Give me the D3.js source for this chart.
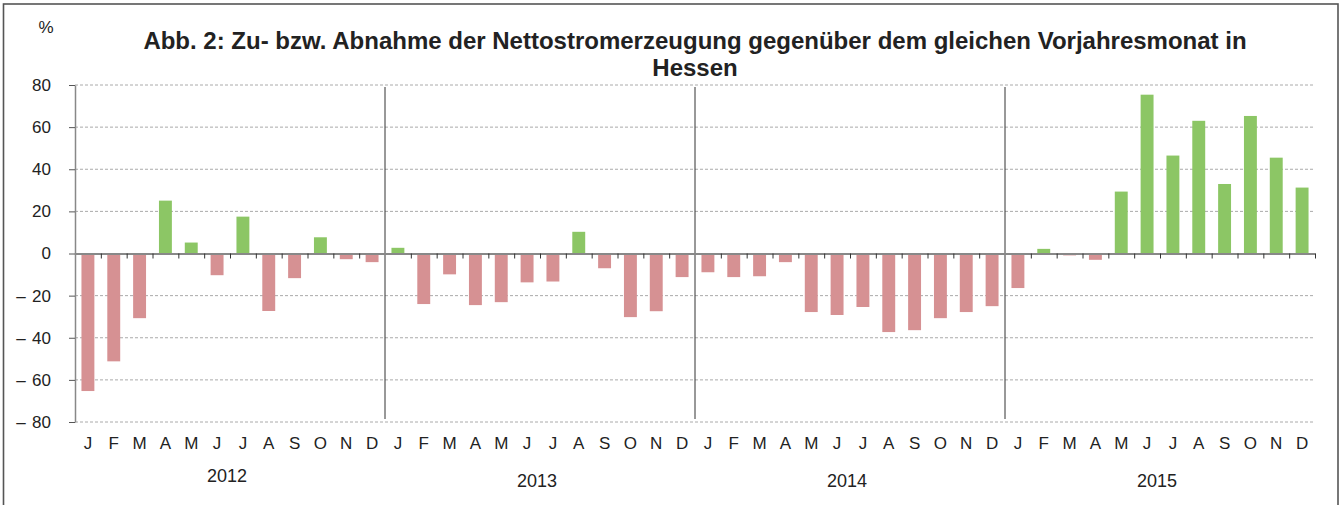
<!DOCTYPE html>
<html><head><meta charset="utf-8">
<script src="https://cdn.jsdelivr.net/npm/d3@7"></script>
<style>
html,body{margin:0;padding:0;background:#fff;}
text{font-family:"Liberation Sans",Arial,sans-serif;fill:#222;}
</style></head>
<body>
<svg id="chart" width="1344" height="505"></svg>
<script>
const years = ["2012","2013","2014","2015"];
const monthLetters = ["J","F","M","A","M","J","J","A","S","O","N","D"];
const values2012 = [-65.3,-51.2,-30.7,25.1,5.2,-10.3,17.5,-27.3,-11.7,7.7,-2.7,-4.1];
const values2013 = [2.7,-24.0,-9.9,-24.5,-23.1,-13.7,-13.3,10.3,-7.0,-30.2,-27.4,-11.2];
const values2014 = [-8.9,-11.2,-10.8,-4.1,-27.8,-29.2,-25.4,-37.3,-36.4,-30.7,-27.8,-25.0];
const values2015 = [-16.4,2.2,-0.9,-3.0,29.4,75.4,46.5,63.0,33.0,65.3,45.5,31.3];
const yTicks = [-80,-60,-40,-20,0,20,40,60,80];
const titleLines = ["Abb. 2: Zu- bzw. Abnahme der Nettostromerzeugung gegenüber dem gleichen Vorjahresmonat in","Hessen"];
const unitLabel = "%";

const allValues = [values2012,values2013,values2014,values2015];
const data = [];
years.forEach((yr,yi)=>{
  allValues[yi].forEach((v,mi)=>{
    data.push({key: yr+"-"+mi, year: yr, month: monthLetters[mi], value: v});
  });
});

const svg = d3.select("#chart");
const L = 75, R = 1315, T = 85, B = 422;

// frame
svg.append("rect").attr("x",3.5).attr("y",4).attr("width",1334.5).attr("height",560)
  .attr("fill","none").attr("stroke","#555").attr("stroke-width",1.6);

const x = d3.scaleBand().domain(data.map(d=>d.key)).range([L,R]).paddingInner(0.5).paddingOuter(0.25);
const xi = d3.scaleLinear().domain([0,data.length]).range([L,R]);
const y = d3.scaleLinear().domain([-80,80]).range([B,T]);

// gridlines
svg.append("g").selectAll("line").data(yTicks.filter(t=>t!==0)).join("line")
  .attr("x1",L).attr("x2",R).attr("y1",d=>y(d)).attr("y2",d=>y(d))
  .attr("stroke","#aaa").attr("stroke-width",1).attr("stroke-dasharray","3,2");

// bars
svg.append("g").selectAll("rect").data(data).join("rect")
  .attr("x",d=>x(d.key)).attr("width",x.bandwidth())
  .attr("y",d=>y(Math.max(0,d.value))).attr("height",d=>Math.abs(y(d.value)-y(0)))
  .attr("fill",d=>d.value>=0?"#8cc665":"#d69193");

// y axis
const yAxis = svg.append("g").attr("transform",`translate(${L},0)`)
  .call(d3.axisLeft(y).tickValues(yTicks).tickSize(6).tickSizeOuter(0).tickPadding(18)
    .tickFormat(d=>Math.abs(d)));
yAxis.select(".domain").attr("stroke","#888").attr("stroke-width",1.5);
yAxis.selectAll(".tick line").attr("stroke","#555");
yAxis.selectAll(".tick text").attr("font-size",17).attr("font-family","Liberation Sans, Arial, sans-serif").attr("fill","#222");
yAxis.selectAll(".tick").filter(d=>d<0).append("text")
  .attr("x",-54).attr("dy","0.32em").attr("text-anchor","middle")
  .attr("font-size",17).attr("fill","#222").attr("font-family","Liberation Sans, Arial, sans-serif").text("–");

// year separators
svg.append("g").selectAll("line").data([12,24,36]).join("line")
  .attr("x1",d=>xi(d)).attr("x2",d=>xi(d)).attr("y1",87).attr("y2",419)
  .attr("stroke","#333").attr("stroke-width",1);

// x axis zero line + ticks
const xAxis = svg.append("g").attr("transform",`translate(0,${y(0)})`)
  .call(d3.axisBottom(xi).tickValues(d3.range(1,49).filter(k=>k%12!==0||k===48)).tickSize(5).tickSizeOuter(0).tickFormat(""));
xAxis.select(".domain").attr("stroke","#888").attr("stroke-width",2);
xAxis.selectAll(".tick line").attr("stroke","#333");

// month labels
svg.append("g").selectAll("text").data(data).join("text")
  .attr("x",d=>x(d.key)+x.bandwidth()/2).attr("y",449)
  .attr("text-anchor","middle").attr("font-size",17).text(d=>d.month);

// year labels
svg.append("g").selectAll("text").data(years).join("text")
  .attr("x",(d,i)=>xi(i*12+6)-3).attr("y",(d,i)=>i===0?482:487)
  .attr("text-anchor","middle").attr("font-size",18).text(d=>d);

// unit
svg.append("text").attr("x",46).attr("y",33).attr("text-anchor","middle").attr("font-size",17).text(unitLabel);

// title
svg.append("g").selectAll("text").data(titleLines).join("text")
  .attr("x",(L+R)/2).attr("y",(d,i)=>49+i*27)
  .attr("text-anchor","middle").attr("font-size",24).attr("font-weight","bold").text(d=>d);
</script>
</body></html>
